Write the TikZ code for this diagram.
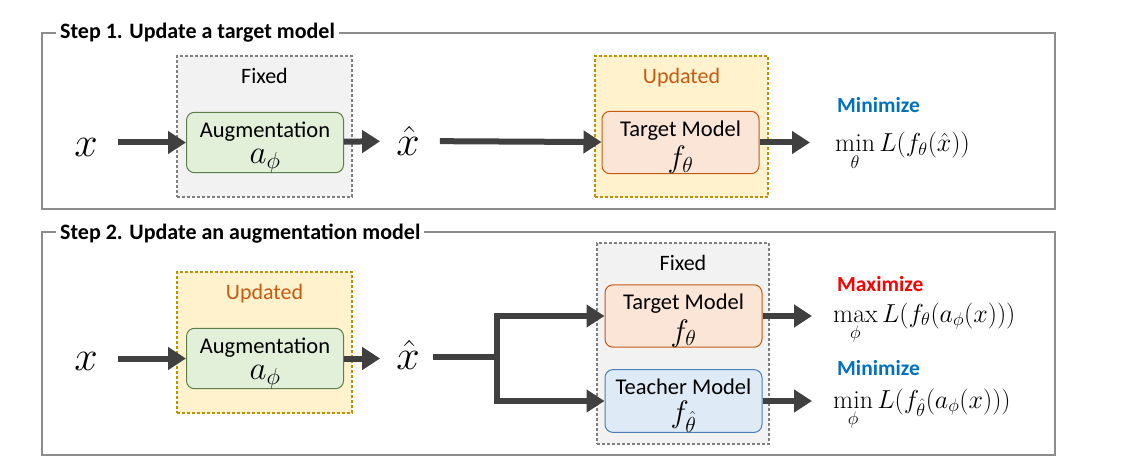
\RequirePackage{fix-cm}
\documentclass[tikz,border=0pt]{standalone}
\usepackage{amsmath}
\usepackage{fontspec}
\newfontfamily\carlito{Carlito}
\usetikzlibrary{arrows.meta,positioning}

\newcommand{\augmath}{\fontsize{33}{21}\selectfont}
\newcommand{\fmath}{\fontsize{31}{21}\selectfont}

\begin{document}
\begin{tikzpicture}[x=1pt,y=-1pt,
  >={Triangle[length=18pt,width=22pt]},
  arr/.style={->,line width=6pt,draw=arrowgray},
  frame/.style={draw=framegray,line width=1.5pt,inner sep=0pt},
  title/.style={fill=white,inner sep=4pt,anchor=west,font=\carlito\bfseries\fontsize{22}{26}\selectfont},
  fixed box/.style={fill=fixfill,draw=fixline,line width=2.6pt,dash pattern=on 2.6pt off 2.4pt,inner sep=0pt},
  upd box/.style={fill=updfill,draw=updline,line width=2.6pt,dash pattern=on 2.6pt off 2.4pt,inner sep=0pt},
  tag/.style={inner sep=0pt,font=\carlito\fontsize{22}{26}\selectfont},
  model/.style={rounded corners=8pt,line width=1pt,minimum width=157pt,minimum height=57pt,
    align=center,inner sep=0pt,font=\carlito\fontsize{22.5}{21}\selectfont},
  aug node/.style={model,fill=augfill,draw=augline},
  tgt node/.style={model,fill=tgtfill,draw=tgtline},
  tch node/.style={model,fill=tchfill,draw=tchline},
  var/.style={inner sep=0pt,font=\fontsize{42}{44}\selectfont},
  goal/.style={anchor=base west,inner sep=0pt,font=\carlito\bfseries\fontsize{21.5}{26}\selectfont},
  loss/.style={anchor=base west,inner sep=0pt,font=\fontsize{26}{30}\selectfont}]
  \definecolor{arrowgray}{HTML}{404040}
  \definecolor{framegray}{HTML}{8C8C8C}
  \definecolor{fixfill}{HTML}{F2F2F2}
  \definecolor{fixline}{HTML}{7F7F7F}
  \definecolor{updfill}{HTML}{FFF2CC}
  \definecolor{updline}{HTML}{BF9000}
  \definecolor{updtext}{HTML}{C55A11}
  \definecolor{augfill}{HTML}{E2F0D9}
  \definecolor{augline}{HTML}{5E7F4A}
  \definecolor{tgtfill}{HTML}{FBE5D6}
  \definecolor{tgtline}{HTML}{C55A11}
  \definecolor{tchfill}{HTML}{DEEBF7}
  \definecolor{tchline}{HTML}{4A7EB5}
  \definecolor{minblue}{HTML}{0070C0}
  \definecolor{maxred}{HTML}{FF0000}
  \useasboundingbox (0,0) rectangle (1128,476);

  % step 1
  \node[frame,minimum width=1013pt,minimum height=176pt] (step1) at (548.5,121) {};
  \node[title] (title1) at (56,33) {Step 1. Update a target model};
  \node[fixed box,minimum width=175pt,minimum height=141pt] (fix1) at (264.5,126.5) {};
  \node[upd box,minimum width=173pt,minimum height=141pt] (upd1) at (681.5,126.5) {};
  \node[tag,below=13pt of fix1.north] (fixlab1) {Fixed};
  \node[tag,text=updtext,below=13pt of upd1.north] (updlab1) {Updated};
  \node[aug node] (aug1) at (265,142.5) {\rule{0pt}{25pt}Augmentation\\[5pt]{\augmath$a_\phi$}};
  \node[tgt node] (tgt1) at (680.5,142.5) {\rule{0pt}{25pt}Target Model\\[5pt]{\fmath$f_\theta$}};
  \node[var] (x1) at (86,147) {$x$};
  \node[var] (xh1) at (408,141) {$\hat{x}$};
  \node[goal,text=minblue] (goal1) at (837,113) {Minimize};
  \node[loss] (loss1) at (835,152) {$\displaystyle\min_\theta L(f_\theta(\hat{x}))$};

  \draw[arr,shorten <=20pt] (x1.east |- aug1) -- (aug1);
  \draw[arr,shorten >=16pt] (aug1) -- (xh1);
  \draw[arr,shorten <=20pt] (xh1) -- (tgt1);
  \draw[arr,shorten >=25pt] (tgt1.east) -- (tgt1.east -| loss1.west);

  % step 2
  \node[frame,minimum width=1013pt,minimum height=223pt] (step2) at (548.5,343.5) {};
  \node[title] (title2) at (56,234) {Step 2. Update an augmentation model};
  \node[upd box,minimum width=175pt,minimum height=141pt] (upd2) at (264.5,342.5) {};
  \node[fixed box,minimum width=172pt,minimum height=201pt] (fix2) at (683,343.5) {};
  \node[tag,text=updtext,below=13pt of upd2.north] (updlab2) {Updated};
  \node[tag,below=13pt of fix2.north] (fixlab2) {Fixed};
  \node[aug node] (aug2) at (265,358.5) {\rule{0pt}{25pt}Augmentation\\[5pt]{\augmath$a_\phi$}};
  \node[tgt node] (tgt2) at (683.5,316) {\rule{0pt}{25pt}Target Model\\[5pt]{\fmath$f_\theta$}};
  \node[tch node] (tch2) at (683.5,401) {\rule{0pt}{25pt}Teacher Model\\[5pt]{\fmath$f_{\hat{\theta}}$}};
  \node[var] (x2) at (86,361) {$x$};
  \node[var] (xh2) at (408,355) {$\hat{x}$};
  \coordinate (split) at (497,357);
  \node[goal,text=maxred] (goal2) at (837,291) {Maximize};
  \node[loss] (loss2) at (833,322) {$\displaystyle\max_\phi L(f_\theta(a_\phi(x)))$};
  \node[goal,text=minblue] (goal3) at (837,375) {Minimize};
  \node[loss] (loss3) at (833,408) {$\displaystyle\min_\phi L(f_{\hat{\theta}}(a_\phi(x)))$};

  \draw[arr,shorten <=20pt] (x2.east |- aug2) -- (aug2);
  \draw[arr,shorten >=16pt] (aug2) -- (aug2 -| xh2.west);
  \draw[line width=6pt,draw=arrowgray,shorten <=13pt] (xh2.east |- split) -- (split);
  \draw[arr] (split) |- (tgt2);
  \draw[arr] (split) |- (tch2);
  \draw[arr,shorten >=21pt] (tgt2.east) -- (tgt2.east -| loss2.west);
  \draw[arr,shorten >=21pt] (tch2.east) -- (tch2.east -| loss3.west);
\end{tikzpicture}
\end{document}
